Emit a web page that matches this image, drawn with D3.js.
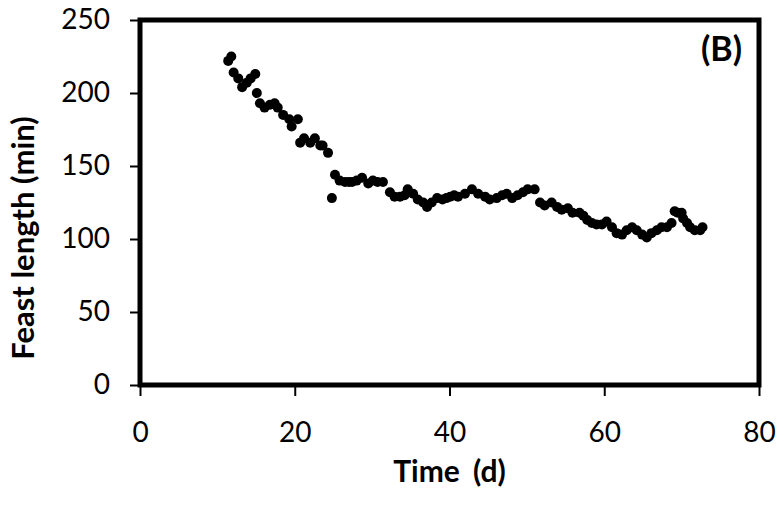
<!DOCTYPE html>
<html>
<head>
<meta charset="utf-8">
<script src="https://cdn.jsdelivr.net/npm/d3@7"></script>
<style>
  body { margin: 0; background: #fff; }
  svg text { font-family: Lato, "Open Sans", sans-serif; fill: #000; }
</style>
</head>
<body>
<div id="chart"></div>
<script>
// day of measurement (d)
var days = [11.4, 11.8, 12.1, 12.7, 13.2, 13.8, 14.3, 14.9, 15.1, 15.5, 16.1, 16.8, 17.4, 17.8, 18.5,
	19.3, 19.6, 20.4, 20.7, 21.2, 22.0, 22.6, 23.3, 23.6, 24.3, 24.8, 25.2, 25.8, 26.5, 27.0, 27.4,
	28.0, 28.7, 29.5, 30.1, 30.7, 31.4, 32.3, 32.9, 33.6, 34.2, 34.6, 35.3, 35.9, 36.6, 37.1, 37.7,
	38.4, 39.1, 39.6, 40.1, 40.6, 41.1, 42.0, 42.9, 43.7, 44.6, 45.2, 46.1, 46.8, 47.4, 48.1, 48.8,
	49.5, 50.1, 51.0, 51.7, 52.3, 53.2, 53.9, 54.5, 55.3, 55.9, 56.8, 57.3, 57.8, 58.4, 59.0, 59.7,
	60.3, 61.0, 61.6, 62.3, 62.9, 63.6, 64.2, 64.9, 65.5, 66.1, 66.8, 67.4, 68.1, 68.7, 69.1, 69.5,
	70.0, 70.2, 70.7, 71.1, 71.7, 72.4, 72.7];
// feast length (min)
var feastLength = [222, 225, 214, 210, 204, 207, 210, 213, 200, 193, 190, 192, 193, 190, 185,
	182, 177, 182, 166, 169, 166, 169, 164, 164, 159, 128, 144, 140, 139, 139, 139,
	140, 142, 138, 140, 139, 139, 132, 129, 129, 130, 134, 131, 127, 125, 122, 125,
	128, 127, 128, 129, 130, 129, 131, 134, 131, 129, 127, 128, 130, 131, 128, 130,
	132, 134, 134, 125, 123, 125, 122, 120, 121, 118, 118, 116, 113, 111, 110, 110,
	112, 108, 104, 103, 106, 108, 106, 103, 101, 104, 106, 108, 108, 111, 119, 118,
	118, 114, 111, 108, 106, 106, 108];

var xTicks = [0, 20, 40, 60, 80];
var yTicks = [0, 50, 100, 150, 200, 250];

var width = 784;
var height = 509;
var margin = {top: 20, right: 25, bottom: 124, left: 140};

var svg = d3.select('#chart').append('svg')
	.attr('width', width)
	.attr('height', height);

var x = d3.scaleLinear().domain([0, 80]).range([margin.left, width - margin.right]);
var y = d3.scaleLinear().domain([0, 250]).range([height - margin.bottom, margin.top]);

// axes (ticks outside, thin)
var xAxis = svg.append('g')
	.attr('transform', 'translate(0,' + y(0) + ')')
	.call(d3.axisBottom(x).tickValues(xTicks).tickSize(11).tickPadding(26).tickSizeOuter(0));
var yAxis = svg.append('g')
	.attr('transform', 'translate(' + x(0) + ',0)')
	.call(d3.axisLeft(y).tickValues(yTicks).tickSize(10).tickPadding(20).tickSizeOuter(0));

[xAxis, yAxis].forEach(function(g) {
	g.select('.domain').remove();
	g.selectAll('.tick line').attr('stroke', '#000').attr('stroke-width', 2);
	g.selectAll('.tick text').style('font-size', '28px').attr('fill', '#000');
});
xAxis.selectAll('.tick text').attr('dy', '0.71em');

// thick plot frame
svg.append('rect')
	.attr('x', x(0))
	.attr('y', y(250))
	.attr('width', x(80) - x(0))
	.attr('height', y(0) - y(250))
	.attr('fill', 'none')
	.attr('stroke', '#000')
	.attr('stroke-width', 5);

// points
svg.append('g').selectAll('circle')
	.data(days)
	.enter().append('circle')
	.attr('cx', function(d) { return x(d); })
	.attr('cy', function(d, i) { return y(feastLength[i]); })
	.attr('r', 5)
	.attr('fill', '#000');

// panel label
svg.append('text')
	.attr('x', x(80) - 17)
	.attr('y', 61)
	.attr('text-anchor', 'end')
	.style('font-size', '34px')
	.style('font-weight', 'bold')
	.text('(B)');

// axis titles
svg.append('text')
	.attr('x', (x(0) + x(80)) / 2)
	.attr('y', 482)
	.attr('text-anchor', 'middle')
	.style('font-size', '30px')
	.style('font-weight', 'bold')
	.style('word-spacing', '6px')
	.text('Time (d)');

svg.append('text')
	.attr('transform', 'translate(34,238) rotate(-90)')
	.attr('text-anchor', 'middle')
	.style('font-size', '31px')
	.style('font-weight', 'bold')
	.text('Feast length (min)');
</script>
</body>
</html>
